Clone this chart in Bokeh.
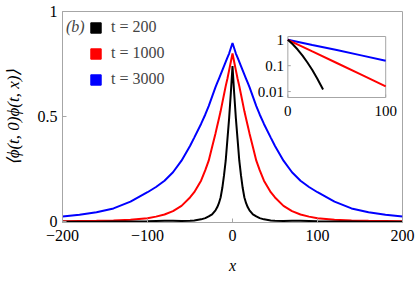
import math
from bokeh.plotting import figure
from bokeh.models import Range1d, LogScale, Label, Legend, LegendItem
from bokeh.core.properties import value
from bokeh.embed import file_html
from bokeh.resources import INLINE

# ---------------- data ----------------
# main panel, x >= 0 half (curves are symmetric in x)
x_half = [0, 2, 4, 6, 8, 10, 12, 14, 16, 18, 20, 24, 28, 32, 37, 45, 50,
          60, 70, 80, 90, 100, 120, 140, 160, 180, 200]
c_t200 = [0.74, 0.61, 0.49, 0.39, 0.29, 0.22, 0.16, 0.115, 0.088, 0.068, 0.054,
          0.035, 0.025, 0.017, 0.011, 0.006, 0.004, 0.003, 0.004, 0.004, 0.003,
          0.002, 0.001, 0.0005, 0.0, 0.0, 0.0]
c_t1000 = [0.80, 0.76, 0.72, 0.68, 0.645, 0.605, 0.565, 0.525, 0.49, 0.455, 0.42,
           0.355, 0.29, 0.245, 0.195, 0.14, 0.115, 0.075, 0.05, 0.034, 0.024,
           0.016, 0.009, 0.006, 0.004, 0.003, 0.002]
c_t3000 = [0.85, 0.825, 0.80, 0.78, 0.76, 0.74, 0.72, 0.70, 0.68, 0.66, 0.64,
           0.595, 0.55, 0.51, 0.465, 0.40, 0.36, 0.29, 0.235, 0.195, 0.165,
           0.14, 0.095, 0.063, 0.045, 0.033, 0.025]

# inset (normalised, log scale)
ins_x = [0, 25, 50, 75, 100]
ins_t3000 = [1.0, 0.63, 0.40, 0.25, 0.155]
ins_t1000 = [1.0, 0.355, 0.127, 0.045, 0.016]
ins_x_t200 = [0, 5, 10, 15, 20, 25, 30, 36]
ins_t200 = [1.0, 0.67, 0.42, 0.244, 0.133, 0.068, 0.032, 0.012]

labels = ["t = 200", "t = 1000", "t = 3000"]
colors = ["#000000", "#ff0000", "#0000ff"]

x_ticks = [-200, -100, 0, 100, 200]
x_tick_labels = ["\u2212200", "\u2212100", "0", "100", "200"]
y_ticks = [0, 0.5, 1]
y_tick_labels = ["0", "0.5", "1"]
ins_y_ticks = [1, 0.1, 0.01]
ins_y_tick_labels = ["1", "0.1", "0.01"]
ins_x_ticks = [0, 100]
ins_x_tick_labels = ["0", "100"]

# ---------------- layout ----------------
W, H = 415, 283
BL, BR, BT, BB = 58, 13, 11, 61
FW, FH = W - BL - BR, H - BT - BB
FONT = "Liberation Serif"
GRAY = "#a6a6a6"

p = figure(width=W, height=H, x_range=Range1d(-200, 200), y_range=Range1d(-0.004, 1.0),
           output_backend="svg", toolbar_location=None,
           min_border_left=BL, min_border_right=BR, min_border_top=BT, min_border_bottom=BB)
p.grid.visible = False
p.outline_line_color = GRAY

for ax in (p.xaxis[0], p.yaxis[0]):
    ax.axis_line_color = GRAY
    ax.major_tick_line_color = GRAY
    ax.major_tick_in = 4
    ax.major_tick_out = 0
    ax.minor_tick_line_color = None
    ax.major_label_text_font = FONT
    ax.major_label_text_font_size = "16px"
    ax.major_label_text_color = "black"
    ax.axis_label_text_font = FONT
    ax.axis_label_text_font_size = "16px"
    ax.axis_label_text_font_style = "italic"
    ax.axis_label_text_color = "black"

p.xaxis.ticker = x_ticks
p.xaxis.major_label_overrides = dict(zip(x_ticks, x_tick_labels))
p.xaxis.major_label_standoff = 7
p.xaxis.axis_label = "x"
p.xaxis.axis_label_standoff = 13

p.yaxis.ticker = y_ticks
p.yaxis.major_label_overrides = dict(zip(y_ticks, y_tick_labels))
p.yaxis.major_label_standoff = 5
p.yaxis.axis_label = "\u27e8\u03d5(t, 0)\u03d5(t, x)\u27e9"
p.yaxis.axis_label_text_font_size = "17px"
p.yaxis.axis_label_standoff = 12

# main curves
def full(xs, ys):
    fx = [-v for v in reversed(xs[1:])] + list(xs)
    fy = list(reversed(ys[1:])) + list(ys)
    return fx, fy

for ys, col in zip([c_t3000, c_t1000, c_t200], [colors[2], colors[1], colors[0]]):
    fx, fy = full(x_half, ys)
    p.line(fx, fy, line_color=col, line_width=2)

# legend with square swatches (renderers hold one NaN row so nothing is drawn)
nan = float("nan")
items = []
for lab, col in zip(labels, colors):
    r = p.quad(left=[nan], right=[nan], top=[nan], bottom=[nan], fill_color=col, line_color=col)
    items.append(LegendItem(label=lab, renderers=[r]))
leg = Legend(items=items, location=(27, 134), glyph_width=13, glyph_height=13,
             label_height=13, label_standoff=9, spacing=8, padding=0, margin=0,
             border_line_color=None, background_fill_alpha=0,
             label_text_font=FONT, label_text_font_size="16px")
p.add_layout(leg)

p.add_layout(Label(x=-196, y=0.93, text="(b)", text_font=FONT, text_font_style="italic",
                   text_font_size="16px", text_baseline="middle", text_align="left"))

# ---------------- inset via extra ranges ----------------
IN_L, IN_R, IN_T, IN_B = 228, 327, 25, 86   # frame pixels
IX0, IX1 = 0, 100
IY0, IY1 = 0.0059, 1.34
sx = (IX1 - IX0) / (IN_R - IN_L)
ly0, ly1 = math.log10(IY0), math.log10(IY1)
sy = (ly1 - ly0) / (IN_B - IN_T)
p.extra_x_ranges = {"ix": Range1d(IX0 - IN_L * sx, IX0 + (FW - IN_L) * sx)}
p.extra_y_ranges = {"iy": Range1d(10 ** (ly0 - (FH - IN_B) * sy), 10 ** (ly1 + IN_T * sy))}
p.extra_y_scales = {"iy": LogScale()}

p.quad(left=[IX0], right=[IX1], bottom=[IY0], top=[IY1],
       x_range_name="ix", y_range_name="iy",
       fill_color="white", line_color=GRAY, line_width=1)

# inset ticks
tk = 3
p.segment(x0=[IX0] * len(ins_y_ticks), x1=[IX0 + tk * sx] * len(ins_y_ticks),
          y0=ins_y_ticks, y1=ins_y_ticks, line_color=GRAY, line_width=1,
          x_range_name="ix", y_range_name="iy")
p.segment(x0=ins_x_ticks, x1=ins_x_ticks, y0=[IY0] * len(ins_x_ticks),
          y1=[10 ** (ly0 + tk * sy)] * len(ins_x_ticks), line_color=GRAY, line_width=1,
          x_range_name="ix", y_range_name="iy")

p.text(x=[IX0 - 4 * sx] * len(ins_y_ticks), y=ins_y_ticks, text=ins_y_tick_labels,
       x_range_name="ix", y_range_name="iy",
       text_align="right", text_baseline="middle",
       text_font=value(FONT), text_font_size=value("15px"), text_color="black")
lab_y = 10 ** (ly0 - 13 * sy)
p.text(x=ins_x_ticks, y=[lab_y] * len(ins_x_ticks), text=ins_x_tick_labels,
       x_range_name="ix", y_range_name="iy",
       text_align="center", text_baseline="middle",
       text_font=value(FONT), text_font_size=value("15px"), text_color="black")

p.line(ins_x, ins_t3000, line_color=colors[2], line_width=2, x_range_name="ix", y_range_name="iy")
p.line(ins_x, ins_t1000, line_color=colors[1], line_width=2, x_range_name="ix", y_range_name="iy")
p.line(ins_x_t200, ins_t200, line_color=colors[0], line_width=2, x_range_name="ix", y_range_name="iy")

open("out.html", "w").write(file_html(p, INLINE))
